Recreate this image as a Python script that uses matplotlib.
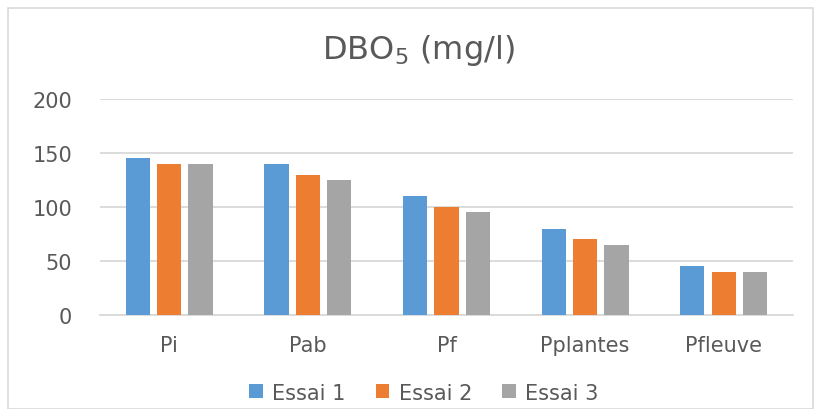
import matplotlib
matplotlib.use("Agg")
import matplotlib.pyplot as plt
from matplotlib.patches import Rectangle
import numpy as np

# data
categories = ["Pi", "Pab", "Pf", "Pplantes", "Pfleuve"]
series_names = ["Essai 1", "Essai 2", "Essai 3"]
essai1 = [145, 140, 110, 80, 45]
essai2 = [140, 130, 100, 70, 40]
essai3 = [140, 125, 95, 65, 40]
yticks = [0, 50, 100, 150, 200]

colors = ["#5B9BD5", "#ED7D31", "#A5A5A5"]
text_color = "#595959"

plt.rcParams["font.family"] = ["DejaVu Sans"]
plt.rcParams["mathtext.fontset"] = "dejavusans"

fig = plt.figure(figsize=(8.15, 4.1), dpi=100)
ax = fig.add_axes([0.1227, 0.229, 0.8503, 0.527])

# outer chart border, like the excel chart area
fig.patches.append(Rectangle((0.01, 0.0), 0.987, 0.978, transform=fig.transFigure,
                             fill=False, edgecolor="#D9D9D9", linewidth=1.2))

x = np.arange(len(categories))
width = 0.175
step = 0.226
for i, (vals, name) in enumerate(zip([essai1, essai2, essai3], series_names)):
    ax.bar(x + (i - 1) * step, vals, width=width, color=colors[i], label=name,
           zorder=3)

ax.set_xlim(-0.5, len(categories) - 0.5)
ax.set_ylim(0, 200)
ax.set_yticks(yticks)
ax.set_xticks(x)
ax.set_xticklabels(categories)
ax.yaxis.grid(True, color="#D9D9D9", linewidth=1.3, zorder=0)
ax.set_axisbelow(True)
for side in ["top", "right", "left"]:
    ax.spines[side].set_visible(False)
ax.spines["bottom"].set_color("#D9D9D9")
ax.spines["bottom"].set_linewidth(1.3)
ax.tick_params(axis="both", length=0, labelsize=15, colors=text_color)
ax.tick_params(axis="y", pad=20)
ax.tick_params(axis="x", pad=14)

fig.text(0.513, 0.876, r"DBO$_\mathregular{5}$ (mg/l)", ha="center", va="center",
         fontsize=23, color=text_color)

fig.legend(loc="center", bbox_to_anchor=(0.52, 0.04), ncol=3, frameon=False,
           fontsize=15, labelcolor=text_color, handlelength=0.65,
           handleheight=0.65, handletextpad=0.45, columnspacing=1.45)

fig.savefig("out.png", dpi=100)
